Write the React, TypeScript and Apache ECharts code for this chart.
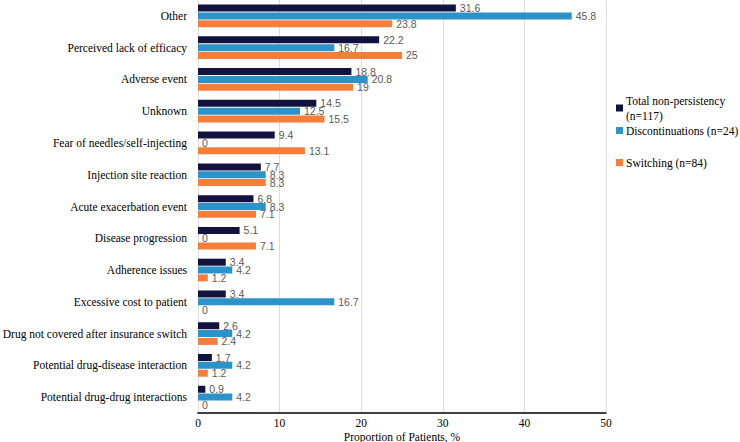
import React, { useEffect, useRef } from "react";
import * as echarts from "echarts";

const categories = [
  "Other",
  "Perceived lack of efficacy",
  "Adverse event",
  "Unknown",
  "Fear of needles/self-injecting",
  "Injection site reaction",
  "Acute exacerbation event",
  "Disease progression",
  "Adherence issues",
  "Excessive cost to patient",
  "Drug not covered after insurance switch",
  "Potential drug-disease interaction",
  "Potential drug-drug interactions",
];

const totalNonPersistency = [31.6, 22.2, 18.8, 14.5, 9.4, 7.7, 6.8, 5.1, 3.4, 3.4, 2.6, 1.7, 0.9];
const discontinuations = [45.8, 16.7, 20.8, 12.5, 0, 8.3, 8.3, 0, 4.2, 16.7, 4.2, 4.2, 4.2];
const switching = [23.8, 25, 19, 15.5, 13.1, 8.3, 7.1, 7.1, 1.2, 0, 2.4, 1.2, 0];

const seriesNames = [
  "Total non-persistency (n=117)",
  "Discontinuations (n=24)",
  "Switching (n=84)",
];
const seriesColors = ["#12123e", "#2b93c8", "#f47e3a"];

const xTicks = { min: 0, max: 50, interval: 10 };

export default function App() {
  const ref = useRef<HTMLDivElement>(null);

  useEffect(() => {
    if (!ref.current) return;
    const chart = echarts.init(ref.current, null, { renderer: "svg" });
    const serif = "Liberation Serif";
    const labelStyle = {
      show: true,
      position: "right" as const,
      distance: 4,
      color: "#595959",
      fontSize: 10.5,
      fontFamily: "Liberation Sans",
    };
    const datasets = [totalNonPersistency, discontinuations, switching];
    const legendTops = [88, 118, 150];
    chart.setOption({
      animation: false,
      backgroundColor: "#ffffff",
      grid: {
        left: 198,
        right: 134,
        top: 0,
        bottom: 29,
        containLabel: false,
        outerBoundsMode: "none",
      },
      legend: seriesNames.map((n, i) => ({
        data: [n],
        left: 611,
        top: legendTops[i],
        orient: "vertical",
        icon: "rect",
        itemWidth: 7,
        itemHeight: 7,
        itemGap: 4,
        formatter: (name: string) =>
          name === seriesNames[0] ? "Total non-persistency\n(n=117)" : name,
        textStyle: { fontFamily: serif, fontSize: 11.5, color: "#000", lineHeight: 15, padding: [0, 0, 0, -2] },
      })),
      xAxis: {
        type: "value",
        min: xTicks.min,
        max: xTicks.max,
        interval: xTicks.interval,
        name: "Proportion of Patients, %",
        nameLocation: "middle",
        nameGap: 18,
        nameMoveOverlap: false,
        nameTextStyle: { fontFamily: serif, fontSize: 11.5, color: "#000", verticalAlign: "top" },
        axisLine: { show: true, lineStyle: { color: "#000", width: 1.5 } },
        axisTick: { show: false },
        axisLabel: { fontFamily: serif, fontSize: 11.5, color: "#000", margin: 4 },
        splitLine: { show: true, lineStyle: { color: "#dcdcdc", width: 1 } },
      },
      yAxis: {
        type: "category",
        inverse: true,
        data: categories,
        axisLine: { show: false },
        axisTick: { show: false },
        axisLabel: { fontFamily: serif, fontSize: 11.5, color: "#000", margin: 11 },
      },
      series: datasets.map((d, i) => ({
        name: seriesNames[i],
        type: "bar",
        data: d,
        barWidth: 7,
        barGap: "12%",
        itemStyle: { color: seriesColors[i] },
        label: labelStyle,
      })),
    });
    return () => chart.dispose();
  }, []);

  return <div ref={ref} style={{ width: 740, height: 442, position: "absolute", left: 0, top: 0 }} />;
}
